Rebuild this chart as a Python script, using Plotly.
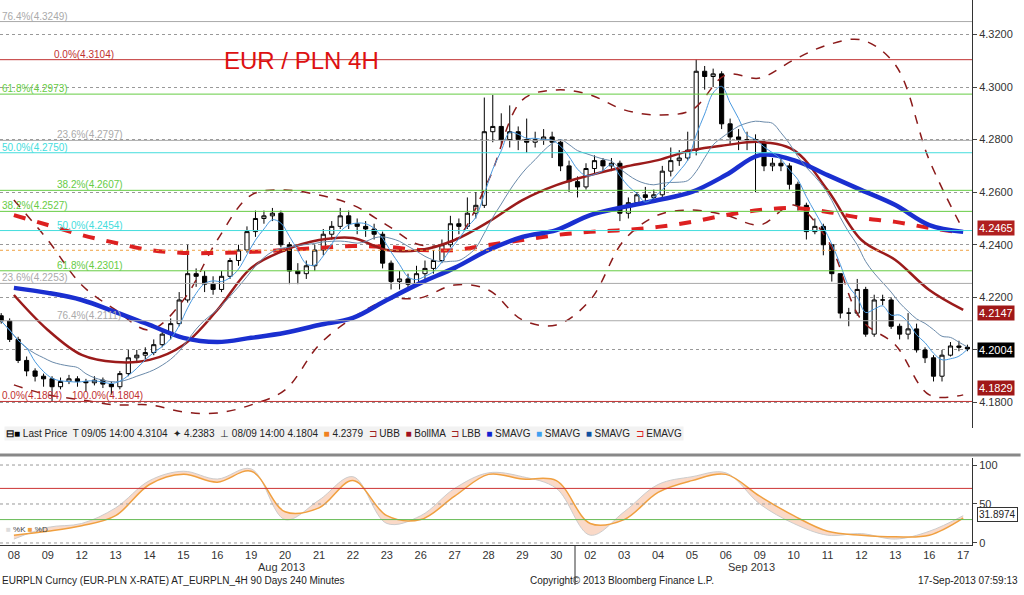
import plotly.graph_objects as go
import pandas as pd

day_labels = ["08","09","12","13","14","15","16","19","20","21","22","23","26","27","28","29","30",
              "02","03","04","05","06","09","10","11","12","13","16","17"]

closes = [
 4.2110,4.2040,4.1960,4.1920, 4.1900,4.1890,4.1860,4.1880, 4.1890,4.1880,4.1875,4.1885,
 4.1870,4.1860,4.1910,4.1970, 4.1980,4.1990,4.2020,4.2060, 4.2100,4.2190,4.2290,4.2280,
 4.2250,4.2230,4.2280,4.2340, 4.2380,4.2450,4.2500,4.2510, 4.2520,4.2400,4.2300,4.2290,
 4.2320,4.2380,4.2440,4.2470, 4.2510,4.2480,4.2470,4.2460, 4.2440,4.2330,4.2260,4.2270,
 4.2250,4.2290,4.2310,4.2340, 4.2400,4.2480,4.2470,4.2520, 4.2550,4.2830,4.2850,4.2800,
 4.2830,4.2800,4.2790,4.2800, 4.2810,4.2790,4.2700,4.2640, 4.2620,4.2690,4.2720,4.2700,
 4.2710,4.2520,4.2560,4.2590, 4.2580,4.2590,4.2680,4.2720, 4.2730,4.2760,4.3060,4.3040,
 4.3050,4.2860,4.2810,4.2800, 4.2800,4.2790,4.2700,4.2710, 4.2700,4.2630,4.2550,4.2450,
 4.2470,4.2400,4.2290,4.2140, 4.2140,4.2230,4.2060,4.2190, 4.2190,4.2090,4.2060,4.2080,
 4.2000,4.1970,4.1900,4.1980, 4.2015,4.2010,4.2004]
highs = [
 4.2140,4.2120,4.2050,4.1975, 4.1930,4.1910,4.1900,4.1895, 4.1905,4.1900,4.1890,4.1900,
 4.1895,4.1880,4.1920,4.2000, 4.2000,4.2010,4.2040,4.2080, 4.2120,4.2220,4.2400,4.2310,
 4.2300,4.2280,4.2300,4.2350, 4.2400,4.2470,4.2530,4.2530, 4.2540,4.2530,4.2410,4.2330,
 4.2340,4.2400,4.2460,4.2490, 4.2540,4.2530,4.2500,4.2490, 4.2480,4.2450,4.2340,4.2300,
 4.2290,4.2320,4.2340,4.2380, 4.2420,4.2510,4.2500,4.2580, 4.2600,4.2960,4.2970,4.2900,
 4.2930,4.2850,4.2880,4.2830, 4.2840,4.2830,4.2800,4.2720, 4.2660,4.2710,4.2740,4.2730,
 4.2730,4.2720,4.2580,4.2600, 4.2620,4.2610,4.2700,4.2770, 4.2760,4.2830,4.3104,4.3080,
 4.3070,4.3060,4.2880,4.2840, 4.2830,4.2820,4.2800,4.2730, 4.2730,4.2710,4.2640,4.2560,
 4.2500,4.2480,4.2400,4.2290, 4.2160,4.2270,4.2240,4.2210, 4.2210,4.2200,4.2100,4.2140,
 4.2100,4.2010,4.1980,4.2000, 4.2030,4.2035,4.2020]
lows = [
 4.2100,4.2030,4.1950,4.1900, 4.1880,4.1860,4.1804,4.1850, 4.1870,4.1860,4.1840,4.1865,
 4.1855,4.1830,4.1850,4.1900, 4.1950,4.1965,4.1980,4.2010, 4.2040,4.2090,4.2180,4.2240,
 4.2220,4.2210,4.2220,4.2270, 4.2320,4.2370,4.2430,4.2480, 4.2490,4.2390,4.2250,4.2250,
 4.2270,4.2300,4.2360,4.2420, 4.2460,4.2460,4.2440,4.2430, 4.2420,4.2310,4.2230,4.2230,
 4.2230,4.2240,4.2270,4.2290, 4.2330,4.2390,4.2440,4.2460, 4.2500,4.2540,4.2790,4.2780,
 4.2770,4.2760,4.2750,4.2770, 4.2780,4.2730,4.2680,4.2600, 4.2580,4.2610,4.2670,4.2680,
 4.2680,4.2490,4.2500,4.2550, 4.2560,4.2560,4.2580,4.2660, 4.2700,4.2720,4.2740,4.2990,
 4.3000,4.2840,4.2780,4.2760, 4.2760,4.2600,4.2680,4.2680, 4.2680,4.2610,4.2530,4.2420,
 4.2440,4.2360,4.2260,4.2120, 4.2090,4.2130,4.2050,4.2050, 4.2170,4.2080,4.2040,4.2040,
 4.1990,4.1950,4.1880,4.1880, 4.1975,4.1995,4.1995]
first_open = 4.2130

sma_slow = [4.2236,4.2217,4.2190,4.2144,4.2095,4.2046,4.2030,4.2046,4.2065,4.2095,4.2122,4.2190,
            4.2255,4.2312,4.2380,4.2430,4.2456,4.2513,4.2544,4.2570,4.2601,4.2665,4.2741,4.2722,
            4.2665,4.2608,4.2551,4.2475,4.2449]
boll_ma = [4.2209,4.2076,4.1981,4.1954,4.1962,4.2019,4.2152,4.2312,4.2380,4.2418,4.2426,4.2380,
           4.2380,4.2418,4.2487,4.2570,4.2627,4.2665,4.2696,4.2722,4.2760,4.2779,4.2791,4.2760,
           4.2608,4.2418,4.2342,4.2228,4.2152]
ema = [4.2513,4.2475,4.2437,4.2407,4.2380,4.2369,4.2369,4.2373,4.2380,4.2388,4.2395,4.2392,
       4.2380,4.2380,4.2399,4.2418,4.2437,4.2449,4.2456,4.2468,4.2487,4.2513,4.2532,4.2540,
       4.2525,4.2502,4.2487,4.2464,4.2445]
ubb = [4.2570,4.2418,4.2247,4.2152,4.2076,4.2190,4.2418,4.2589,4.2608,4.2589,4.2551,4.2475,
       4.2399,4.2418,4.2646,4.2951,4.2989,4.2970,4.2913,4.2894,4.2913,4.3046,4.3034,4.3103,
       4.3160,4.3179,4.3084,4.2722,4.2456]
lbb = [4.1867,4.1829,4.1810,4.1791,4.1791,4.1764,4.1760,4.1791,4.1848,4.2019,4.2122,4.2190,
       4.2198,4.2247,4.2228,4.2114,4.2095,4.2190,4.2418,4.2513,4.2532,4.2513,4.2475,4.2551,
       4.2418,4.2114,4.2019,4.1829,4.1829]
stoch_d = [10,15,22,35,75,88,78,92,40,45,80,35,30,60,88,82,80,25,30,65,80,88,60,35,15,10,8,10,32]
stoch_k = [5,20,25,45,80,92,82,95,30,55,85,25,35,70,90,85,70,10,40,75,85,90,50,25,10,12,5,15,35]

fib_levels = [4.3249,4.3104,4.2973,4.2797,4.2750,4.2607,4.2527,4.2454,4.2301,4.2253,4.2111,4.1804]
fib_labels = ["76.4%(4.3249)","0.0%(4.3104)","61.8%(4.2973)","23.6%(4.2797)","50.0%(4.2750)",
              "38.2%(4.2607)","38.2%(4.2527)","50.0%(4.2454)","61.8%(4.2301)","23.6%(4.2253)",
              "76.4%(4.2111)","0.0%(4.1804)"]
fib_colors = ["#aaaaaa","#c03030","#66cc44","#aaaaaa","#44dddd","#66cc44","#66cc44","#44dddd",
              "#66cc44","#aaaaaa","#aaaaaa","#c03030"]
fib_labelx = [0,52,0,55,0,55,0,55,55,0,55,0]

# positions
nb = len(closes)
bx = [i // 4 + (i % 4) * 0.25 - 0.375 for i in range(nb)]
opens = [first_open] + closes[:-1]
days = list(range(len(day_labels)))
s = pd.Series(closes)
sma_fast = s.rolling(4, min_periods=1).mean().tolist()
sma_mid = s.rolling(10, min_periods=1).mean().tolist()

H = 545.0
def py(p):
    return (H - p) / H

FONT = "Liberation Sans"
fig = go.Figure()
for lvl, col in zip(fib_levels, fib_colors):
    fig.add_shape(type="line", xref="paper", x0=0, x1=1, yref="y", y0=lvl, y1=lvl,
                  line=dict(color=col, width=1))
fig.add_shape(type="line", xref="paper", x0=0, x1=1, yref="y", y0=4.2379, y1=4.2379,
              line=dict(color="#f0a040", width=1, dash="dot"))
for lvl, lab, col, lx in zip(fib_levels, fib_labels, fib_colors, fib_labelx):
    fig.add_annotation(x=lx/972, y=lvl, xref="paper", yref="y", text=lab, showarrow=False,
                       xanchor="left", yanchor="bottom", font=dict(size=10, color=col), yshift=-2)
fig.add_annotation(x=70/972, y=4.1804, xref="paper", yref="y", text="100.0%(4.1804)",
                   showarrow=False, xanchor="left", yanchor="bottom", yshift=-2,
                   font=dict(size=10, color="#c03030"))

fig.add_trace(go.Scatter(x=days, y=ubb, mode="lines", line=dict(color="#8b1a1a", width=1.5, dash="dash", shape="spline")))
fig.add_trace(go.Scatter(x=days, y=lbb, mode="lines", line=dict(color="#8b1a1a", width=1.5, dash="dash", shape="spline")))
fig.add_trace(go.Scatter(x=days, y=ema, mode="lines", line=dict(color="#dd2020", width=4, dash="dash", shape="spline")))
fig.add_trace(go.Scatter(x=days, y=boll_ma, mode="lines", line=dict(color="#9b1b1b", width=2.5, shape="spline")))
fig.add_trace(go.Scatter(x=days, y=sma_slow, mode="lines", line=dict(color="#1a2fd0", width=4.5, shape="spline")))
fig.add_trace(go.Scatter(x=bx, y=sma_mid, mode="lines", line=dict(color="#6a8aaa", width=1, shape="spline")))
fig.add_trace(go.Scatter(x=bx, y=sma_fast, mode="lines", line=dict(color="#4a9ae0", width=1, shape="spline")))
fig.add_trace(go.Candlestick(x=bx, open=opens, high=highs, low=lows, close=closes,
    increasing=dict(line=dict(color="#000000", width=1), fillcolor="#ffffff"),
    decreasing=dict(line=dict(color="#000000", width=1), fillcolor="#000000"),
    whiskerwidth=0, xaxis="x", yaxis="y"))

fig.add_trace(go.Scatter(x=days, y=stoch_k, mode="lines", line=dict(color="#cccccc", width=1, shape="spline"),
                         xaxis="x2", yaxis="y2"))
fig.add_trace(go.Scatter(x=days, y=stoch_d, mode="lines", line=dict(color="#f0a040", width=1.5, shape="spline"),
                         fill="tonexty", fillcolor="rgba(245,170,130,0.45)", xaxis="x2", yaxis="y2"))
for lv, col, dash in [(70, "#cc3333", "solid"), (30, "#66bb55", "solid"), (100, "#999999", "dot"),
                      (50, "#999999", "dot"), (0, "#999999", "dot")]:
    fig.add_shape(type="line", xref="paper", x0=0, x1=1, yref="y2", y0=lv, y1=lv,
                  line=dict(color=col, width=1, dash=dash))

xr = [-0.41, 28.26]
fig.update_layout(
    width=1024, height=595, margin=dict(l=0, r=52, t=0, b=50),
    paper_bgcolor="white", plot_bgcolor="white", showlegend=False,
    font=dict(family=FONT, size=10, color="#222"),
    xaxis=dict(range=xr, showticklabels=False, showgrid=False, zeroline=False,
               rangeslider=dict(visible=False), anchor="y"),
    yaxis=dict(domain=[py(428), 1], range=[4.1703, 4.3331], side="right", tickformat=".4f",
               dtick=0.02, tick0=4.18, showgrid=True, gridcolor="#999999", griddash="dot",
               showline=True, linecolor="#333", ticks="outside", ticklen=4,
               tickfont=dict(size=11, color="#333"), zeroline=False),
    xaxis2=dict(range=xr, anchor="y2", tickvals=days, ticktext=day_labels, showgrid=False,
                showline=True, linecolor="#333", ticks="", tickfont=dict(size=11, color="#333"),
                zeroline=False),
    yaxis2=dict(domain=[0, py(458)], range=[-2.6, 109], side="right", tickvals=[0, 50, 100],
                showgrid=False, showline=True, linecolor="#333", ticks="outside", ticklen=4,
                tickfont=dict(size=11, color="#333"), zeroline=False),
)

fig.add_shape(type="line", xref="paper", yref="paper", x0=0, x1=1.05, y0=py(455), y1=py(455),
              line=dict(color="#888", width=3))
fig.add_shape(type="line", xref="paper", yref="paper", x0=575/972, x1=575/972, y0=py(545), y1=py(585),
              line=dict(color="#333", width=1))

fig.add_annotation(x=222/972, y=py(45), xref="paper", yref="paper", text="EUR / PLN 4H",
                   showarrow=False, xanchor="left", font=dict(size=24, color="#dd1111"))

legend = ("<b>⊟</b><span style='color:#000'>■</span> Last Price  T 09/05 14:00 4.3104  ✦ 4.2383  "
          "⊥ 08/09 14:00 4.1804  <span style='color:#f08020'>■</span> 4.2379  "
          "<span style='color:#a02020'>⊐</span> UBB  <span style='color:#a01020'>■</span> BollMA  "
          "<span style='color:#a02020'>⊐</span> LBB  <span style='color:#1020d0'>■</span> SMAVG  "
          "<span style='color:#40a0f0'>■</span> SMAVG  <span style='color:#1050a0'>■</span> SMAVG  "
          "<span style='color:#dd2020'>⊐</span> EMAVG")
fig.add_annotation(x=4/972, y=py(441), xref="paper", yref="paper", text=legend, showarrow=False,
                   xanchor="left", font=dict(size=10, color="#222"), bgcolor="#f2f2f2")
fig.add_annotation(x=4/972, y=py(536), xref="paper", yref="paper",
                   text="<span style='color:#ddd'>■</span> %K <span style='color:#f0a040'>■</span> %D",
                   showarrow=False, xanchor="left", font=dict(size=8, color="#444"))

for val, col, ypx in [("4.2465", "#b02020", 228), ("4.2147", "#a01818", 313),
                      ("4.2004", "#000000", 350), ("4.1829", "#a01818", 396)]:
    fig.add_annotation(x=1, y=py(ypx), xref="paper", yref="paper", text=val, showarrow=False,
                       xanchor="left", xshift=5, font=dict(size=11, color="white"), bgcolor=col)
fig.add_annotation(x=1, y=py(522), xref="paper", yref="paper", text="31.8974", showarrow=False,
                   xanchor="left", xshift=5, font=dict(size=10, color="#222"),
                   bgcolor="white", bordercolor="#333", borderwidth=1)

fig.add_annotation(x=256/972, y=py(575), xref="paper", yref="paper", text="Aug 2013", showarrow=False,
                   font=dict(size=11, color="#333"))
fig.add_annotation(x=777/972, y=py(575), xref="paper", yref="paper", text="Sep 2013", showarrow=False,
                   font=dict(size=11, color="#333"))
fig.add_annotation(x=0, y=py(588), xref="paper", yref="paper",
                   text="EURPLN Curncy (EUR-PLN X-RATE) AT_EURPLN_4H 90 Days 240 Minutes",
                   showarrow=False, xanchor="left", font=dict(size=10, color="#222"))
fig.add_annotation(x=528/972, y=py(588), xref="paper", yref="paper",
                   text="Copyright© 2013 Bloomberg Finance L.P.", showarrow=False, xanchor="left",
                   font=dict(size=10, color="#222"))
fig.add_annotation(x=1020/972, y=py(588), xref="paper", yref="paper", text="17-Sep-2013 07:59:13",
                   showarrow=False, xanchor="right", font=dict(size=10, color="#222"))

fig.write_html("out.html", config={"displayModeBar": False},
               post_script="document.body.style.margin='0';document.body.style.overflow='hidden';")
